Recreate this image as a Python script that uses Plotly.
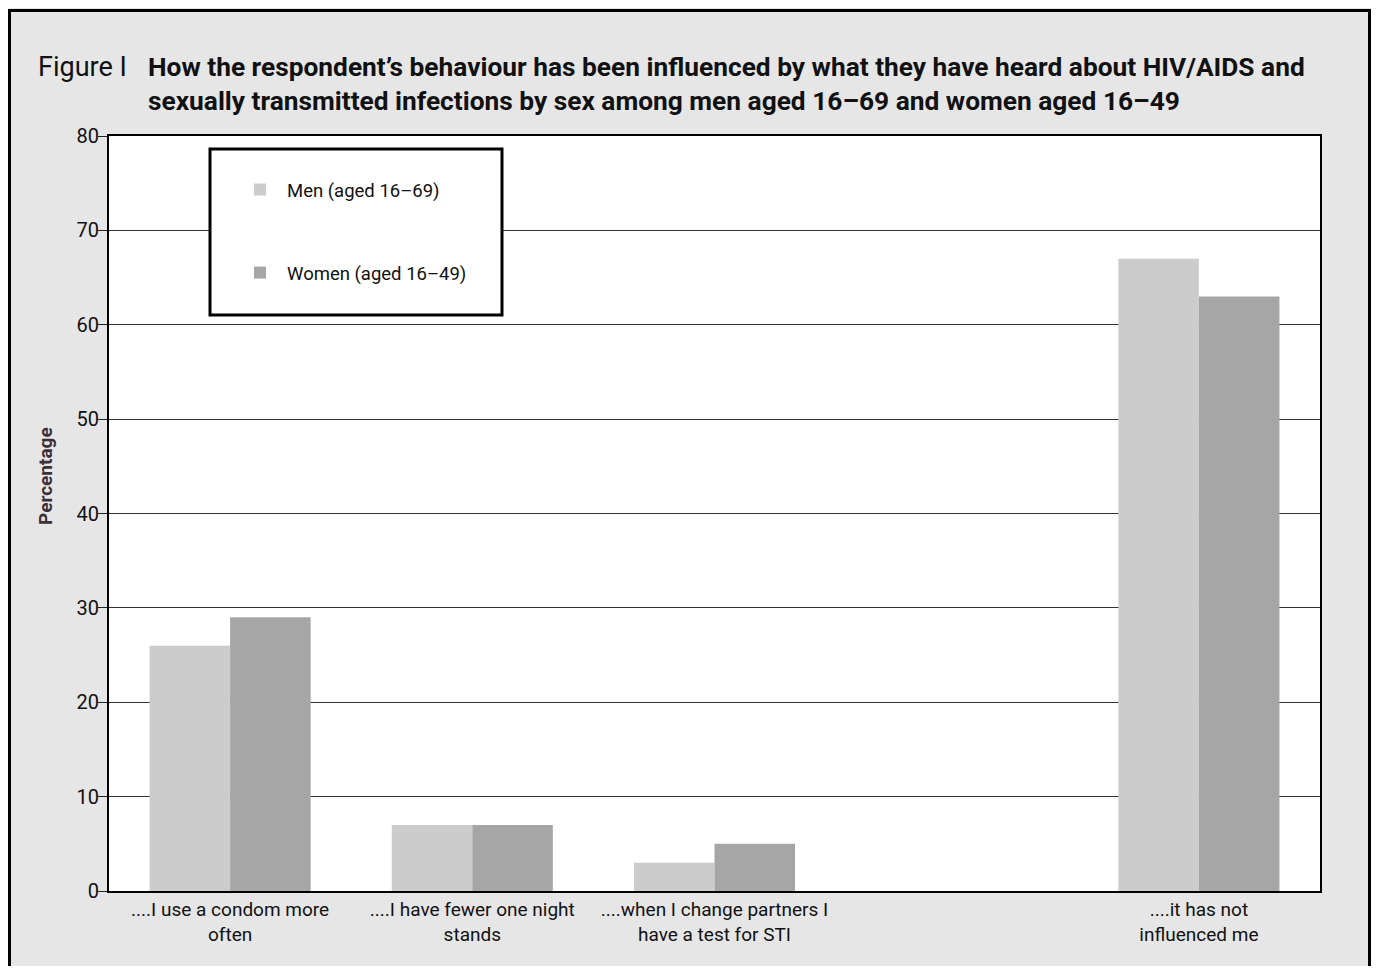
import plotly.graph_objects as go

categories = ["....I use a condom more<br>often",
              "....I have fewer one night<br>stands",
              "....when I change partners I<br>have a test for STI",
              " ",
              "....it has not<br>influenced me"]
men = [26, 7, 3, None, 67]
women = [29, 7, 5, None, 63]
series_names = ["Men (aged 16\u201369)", "Women (aged 16\u201349)"]
y_ticks = [0, 10, 20, 30, 40, 50, 60, 70, 80]

FONT = "Roboto, Liberation Sans, Arial, sans-serif"

# page has an 8px body margin; figure sized to fit the window exactly
OFF = 8
W, H = 1379 - 2 * OFF, 974 - 2 * OFF
# plot area in screen pixels
SX0, SX1, SY0, SY1 = 109, 1320, 136, 891
L, R, T, B = SX0 - OFF, W - (SX1 - OFF), SY0 - OFF, H - (SY1 - OFF)
pw = W - L - R
ph = H - T - B


def px(sx):
    return (sx - OFF - L) / pw


def py(sy):
    return 1 - (sy - OFF - T) / ph


fig = go.Figure()
fig.add_trace(go.Bar(x=categories, y=men, name=series_names[0],
                     marker=dict(color="#cccccc", line=dict(width=0)),
                     legendgroup="m"))
fig.add_trace(go.Bar(x=categories, y=women, name=series_names[1],
                     marker=dict(color="#a6a6a6", line=dict(width=0)),
                     legendgroup="w"))

fig.update_layout(
    width=W, height=H,
    margin=dict(l=L, r=R, t=T, b=B, autoexpand=False),
    paper_bgcolor="#e6e6e6",
    plot_bgcolor="white",
    barmode="group",
    bargap=0.335,
    bargroupgap=0,
    font=dict(family=FONT, size=18, color="#111111"),
    showlegend=True,
    legend=dict(x=px(233), y=py(171), xanchor="left", yanchor="top",
                bgcolor="rgba(0,0,0,0)", borderwidth=0,
                font=dict(family=FONT, size=18.5, color="#111111"),
                tracegroupgap=56, traceorder="grouped", itemwidth=44),
    xaxis=dict(showline=True, linecolor="black", linewidth=2, mirror=True,
               ticks="", showgrid=False,
               tickfont=dict(family=FONT, size=19, color="#111111")),
    yaxis=dict(range=[0, 80], tickvals=y_ticks, showline=True,
               linecolor="black", linewidth=2, mirror=True,
               ticks="outside", ticklen=9, tickwidth=1, tickcolor="#222222",
               ticklabelstandoff=-5,
               showgrid=True, gridcolor="#333333", gridwidth=1,
               zeroline=False,
               tickfont=dict(family=FONT, size=20, color="#111111")),
)

shapes = [
    # outer frame
    dict(type="rect", xref="paper", yref="paper", x0=px(9.5), x1=px(1369.5),
         y0=py(1000), y1=py(10.5), fillcolor="rgba(0,0,0,0)",
         line=dict(color="black", width=3), layer="above"),
    # legend box
    dict(type="rect", xref="paper", yref="paper", x0=px(210), x1=px(502),
         y0=py(315), y1=py(149), fillcolor="white",
         line=dict(color="black", width=3), layer="above"),
]
fig.update_layout(shapes=shapes)

fig.add_annotation(text="<b>Percentage</b>", xref="paper", yref="paper",
                   x=px(45), y=py(476), xanchor="center", yanchor="middle",
                   textangle=-90, showarrow=False,
                   font=dict(family=FONT, size=19, color="#3a3038"))
fig.add_annotation(text="Figure I", xref="paper", yref="paper",
                   x=px(36), y=py(67), xanchor="left", yanchor="middle",
                   showarrow=False, font=dict(family=FONT, size=27, color="#111111"))
fig.add_annotation(text="<b>How the respondent\u2019s behaviour has been influenced by what they have heard about HIV/AIDS and<br>"
                        "sexually transmitted infections by sex among men aged 16\u201369 and women aged 16\u201349</b>",
                   xref="paper", yref="paper", x=px(146), y=py(84),
                   xanchor="left", yanchor="middle", align="left",
                   showarrow=False, font=dict(family=FONT, size=26.3, color="#111111"))

fig.write_html("out.html")
